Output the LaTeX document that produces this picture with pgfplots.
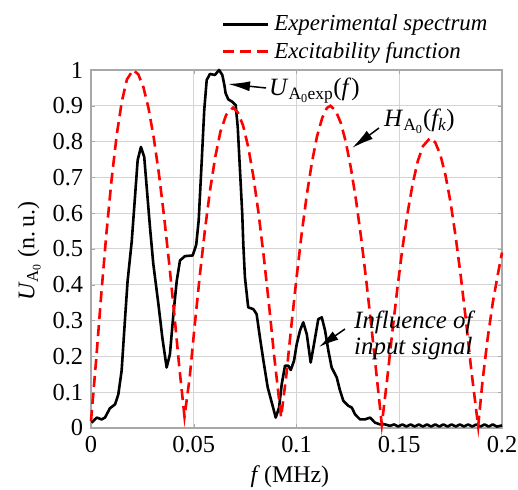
\documentclass[border=0pt]{standalone}
\usepackage{fontspec}
\setmainfont{Liberation Serif}
\usepackage{pgfplots}
\pgfplotsset{compat=1.18}
\usetikzlibrary{arrows.meta}
\definecolor{GridGray}{HTML}{D4D4D4}
\definecolor{FrameGray}{HTML}{A8A8A8}

\begin{document}
\fontsize{23}{27}\selectfont
\begin{tikzpicture}[x=1bp,y=1bp]
\useasboundingbox (0,0) rectangle (518,490);
\begin{axis}[
  at={(91bp,62bp)}, anchor=south west,
  scale only axis, width=411bp, height=358bp,
  xmin=0, xmax=0.2, ymin=0, ymax=1,
  clip=false,
  xtick={0,0.05,0.1,0.15,0.2},
  xticklabels={0,0.05,0.1,0.15,0.2},
  ytick={0,0.1,0.2,0.3,0.4,0.5,0.6,0.7,0.8,0.9,1},
  yticklabels={0,0.1,0.2,0.3,0.4,0.5,0.6,0.7,0.8,0.9,1},
  scaled ticks=false,
  /pgf/number format/assume math mode=true,
  tick label style={font=\fontsize{24.5}{28}\selectfont},
  grid=major, grid style={GridGray, line width=1bp},
  axis line style={FrameGray, line width=1.2bp},
  tick style={FrameGray}, tick align=inside, major tick length=4bp,
  xlabel={\textit{f}\,(MHz)},
  ylabel={\textit{U}\textsubscript{A\textsubscript{0}} (n.\,u.)},
  label style={font=\fontsize{24}{28}\selectfont},
  xlabel style={at={(axis description cs:0.484,-0.137)}, anchor=center},
  ylabel style={at={(axis description cs:-0.150,0.494)}, anchor=center},
  legend style={at={(axis description cs:0.3187,1.168)}, anchor=north west,
    draw=none, fill=none, inner sep=0pt, row sep=-1bp, font=\itshape,
    nodes={inner sep=4.5bp}},
  legend cell align=left,
  legend image code/.code={\draw[#1] (0bp,0bp) -- (45bp,0bp);},
]
\addplot[black, line width=2.6bp, line join=round] coordinates {
(0.0003,0.015) (0.0028,0.029) (0.0052,0.024) (0.0068,0.029) (0.0092,0.055)
(0.0117,0.066) (0.0133,0.094) (0.0149,0.16) (0.0165,0.30) (0.0178,0.41)
(0.0198,0.52) (0.0214,0.645) (0.0227,0.748) (0.0243,0.785) (0.0259,0.757)
(0.0271,0.673) (0.0287,0.561) (0.0303,0.459) (0.0328,0.346) (0.0347,0.253)
(0.0368,0.169) (0.0384,0.206) (0.0401,0.318) (0.0417,0.41) (0.0433,0.468)
(0.0457,0.480) (0.0495,0.482) (0.0512,0.512) (0.0524,0.580) (0.0539,0.748)
(0.0551,0.888) (0.0563,0.972) (0.0579,0.989) (0.0603,0.986) (0.0623,1.0)
(0.0639,0.986) (0.0649,0.958) (0.0655,0.935) (0.0668,0.918) (0.0688,0.911)
(0.0704,0.902) (0.0714,0.841) (0.0725,0.72) (0.0736,0.598) (0.0741,0.515)
(0.0749,0.421) (0.0765,0.337) (0.0790,0.332) (0.0806,0.318) (0.0822,0.253)
(0.0839,0.188) (0.0860,0.113) (0.0882,0.066) (0.0899,0.029) (0.0915,0.057)
(0.0928,0.122) (0.0944,0.174) (0.0960,0.174) (0.0972,0.162) (0.0988,0.188)
(0.1001,0.234) (0.1017,0.272) (0.1033,0.295) (0.1050,0.262) (0.1069,0.183)
(0.1085,0.234) (0.1106,0.304) (0.1123,0.309) (0.1139,0.272) (0.1155,0.216)
(0.1171,0.169) (0.1196,0.141) (0.1212,0.104) (0.1228,0.076) (0.1252,0.062)
(0.1269,0.057) (0.1285,0.038) (0.1309,0.024) (0.1333,0.024) (0.1358,0.029)
(0.1382,0.015) (0.1406,0.010) (0.1431,0.010) (0.1455,0.006)
(0.1475,0.010) (0.1495,0.004) (0.1515,0.010) (0.1535,0.004) (0.1555,0.010)
(0.1575,0.004) (0.1595,0.010) (0.1615,0.004) (0.1635,0.010) (0.1655,0.004)
(0.1675,0.010) (0.1695,0.004) (0.1715,0.010) (0.1735,0.004) (0.1755,0.010)
(0.1775,0.004) (0.1795,0.010) (0.1815,0.004) (0.1835,0.010) (0.1855,0.004)
(0.1875,0.010) (0.1895,0.004) (0.1915,0.010) (0.1935,0.004) (0.1955,0.010)
(0.1975,0.004) (0.2,0.007)
};
\addlegendentry{Experimental spectrum}
\addplot[red, line width=2.6bp, dash pattern=on 11bp off 6bp] coordinates {
(0,0.02) (0.0025,0.19) (0.005,0.374) (0.0075,0.544) (0.010,0.693)
(0.0125,0.818) (0.015,0.912) (0.0175,0.974) (0.0205,1.0) (0.023,0.988)
(0.0255,0.952) (0.028,0.893) (0.0305,0.812) (0.033,0.712) (0.0355,0.594)
(0.038,0.462) (0.0405,0.32) (0.043,0.168) (0.0455,0.032)
(0.048,0.14) (0.0505,0.289) (0.053,0.429) (0.0555,0.556) (0.058,0.667)
(0.0605,0.758) (0.063,0.828) (0.0658,0.875) (0.0692,0.895) (0.0715,0.881)
(0.074,0.845) (0.0765,0.785) (0.079,0.703) (0.0815,0.601) (0.084,0.482)
(0.0865,0.351) (0.089,0.208) (0.0925,0.03)
(0.095,0.145) (0.0975,0.286) (0.100,0.419) (0.1025,0.542) (0.105,0.651)
(0.1075,0.742) (0.110,0.815) (0.1125,0.866) (0.1148,0.894) (0.1165,0.9)
(0.119,0.887) (0.1215,0.853) (0.124,0.799) (0.1265,0.725) (0.129,0.635)
(0.1315,0.529) (0.134,0.409) (0.1365,0.28) (0.139,0.145) (0.1415,0.01)
(0.144,0.13) (0.1465,0.262) (0.149,0.386) (0.1515,0.5) (0.154,0.599)
(0.1565,0.681) (0.159,0.745) (0.1615,0.787) (0.165,0.81) (0.1675,0.798)
(0.170,0.763) (0.1725,0.706) (0.175,0.629) (0.1775,0.532) (0.180,0.421)
(0.1825,0.298) (0.185,0.164) (0.1884,0.005)
(0.1905,0.13) (0.193,0.25) (0.1955,0.35) (0.198,0.43) (0.2,0.49)
};
\addlegendentry{Excitability function}
\end{axis}
% annotations (pixel positions, y measured upwards)
\begin{scope}[every node/.style={font=\fontsize{25}{29}\selectfont}]
\draw[line width=1.5bp, -{Latex[length=22bp,width=10bp]}] (266,402) -- (228,406);
\node[anchor=base west, inner sep=0pt] at (269,394)
  {\textit{U}\textsubscript{A\textsubscript{0}exp}(\textit{f})};
\draw[line width=1.5bp, -{Latex[length=22bp,width=10bp]}] (379,362) -- (352,342);
\node[anchor=base west, inner sep=0pt] at (384,363)
  {\textit{H}\textsubscript{A\textsubscript{0}}(\textit{f\textsubscript{k}})};
\draw[line width=1.5bp, -{Latex[length=20bp,width=10bp]}] (345,161) -- (319,143);
\node[anchor=base west, inner sep=0pt] at (354,161) {\itshape Influence of};
\node[anchor=base west, inner sep=0pt] at (354,135) {\itshape input signal};
\end{scope}
\end{tikzpicture}
\end{document}
